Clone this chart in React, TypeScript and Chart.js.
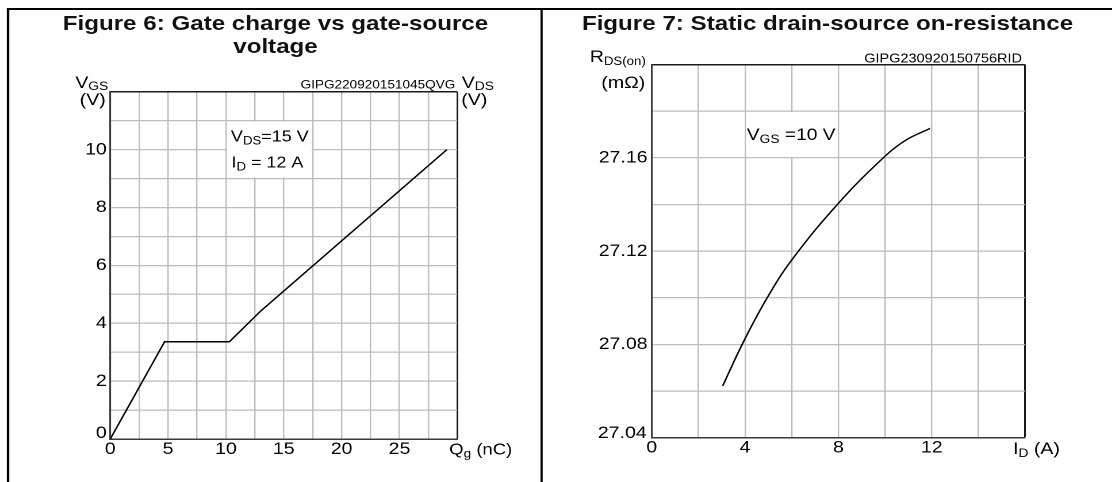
import React, { useEffect, useRef } from "react";
import { Chart, registerables } from "chart.js";

Chart.register(...registerables);

const FONT = '"Liberation Sans", Arial, Helvetica, sans-serif';
// the reference is horizontally stretched; build unstretched and scale X
const S = 1.15;
const ux = (x: number) => x / S;

// ---------- Figure 6: gate charge vs gate-source voltage ----------
const gateCharge = [0, 4.7, 10.3, 13.0, 29.1]; // Qg (nC)
const gateVoltage = [0, 3.36, 3.36, 4.42, 10.0]; // VGS (V)
const qgTickLabels = [0, 5, 10, 15, 20, 25];
const vgsTickLabels = [0, 2, 4, 6, 8, 10];
const fig6Code = "GIPG220920151045QVG";

// ---------- Figure 7: static drain-source on-resistance ----------
const drainCurrent = [3.04, 3.93, 4.93, 6.0, 8.0, 10.0, 10.93, 11.93]; // ID (A)
const rdsOn = [27.0622, 27.0811, 27.0997, 27.1162, 27.1405, 27.1607, 27.1678, 27.1726]; // mOhm
const idTickLabels = [0, 4, 8, 12];
const rdsTickLabels = [27.04, 27.08, 27.12, 27.16];
const fig7Code = "GIPG230920150756RID";

type Run = { t: string; sub?: boolean };

function drawRuns(
  ctx: CanvasRenderingContext2D,
  runs: Run[],
  x: number,
  y: number,
  size: number,
  subSize: number,
  align: "left" | "right",
  subDrop = 3
) {
  const fMain = `${size}px ${FONT}`;
  const fSub = `${subSize}px ${FONT}`;
  let total = 0;
  for (const r of runs) {
    ctx.font = r.sub ? fSub : fMain;
    total += ctx.measureText(r.t).width;
  }
  let cx = align === "right" ? x - total : x;
  ctx.textAlign = "left";
  ctx.textBaseline = "alphabetic";
  ctx.fillStyle = "#000";
  for (const r of runs) {
    ctx.font = r.sub ? fSub : fMain;
    ctx.fillText(r.t, cx, r.sub ? y + subDrop : y);
    cx += ctx.measureText(r.t).width;
  }
}

function range(min: number, max: number, step: number) {
  const out: { value: number }[] = [];
  const n = Math.round((max - min) / step);
  for (let i = 0; i <= n; i++) out.push({ value: Math.round((min + i * step) * 1e6) / 1e6 });
  return out;
}

const near = (a: number, b: number) => Math.abs(a - b) < 1e-6;

function gridFor(max: number) {
  return {
    drawTicks: false,
    color: (c: any) => (c.tick && near(c.tick.value, max) ? "#1a1a1a" : "#bcbcbc"),
    lineWidth: (c: any) => (c.tick && near(c.tick.value, max) ? 1.5 : 1.2),
  };
}

type Geom = {
  box: { left: number; top: number; width: number; height: number };
  plot: { left: number; top: number; right: number; bottom: number };
};

const fig6Geom: Geom = {
  box: { left: 40, top: 60, width: 495, height: 418 },
  plot: { left: 110, top: 91.7, right: 457, bottom: 439 },
};
const fig7Geom: Geom = {
  box: { left: 560, top: 40, width: 545, height: 438 },
  plot: { left: 651.7, top: 64.5, right: 1025, bottom: 437.7 },
};

const TICK = 17;

function baseOptions(g: Geom, w: number) {
  return {
    animation: false as const,
    responsive: false,
    maintainAspectRatio: false,
    devicePixelRatio: 2,
    events: [] as any[],
    layout: {
      padding: {
        left: 0,
        top: g.plot.top - g.box.top,
        right: w - ux(g.plot.right - g.box.left),
        bottom: 0,
      },
    },
    plugins: { legend: { display: false }, tooltip: { enabled: false } },
  };
}

function buildFig6(canvas: HTMLCanvasElement, w: number) {
  const g = fig6Geom;
  const notePlugin = {
    id: "fig6Text",
    afterDraw(chart: any) {
      const { ctx, chartArea: a, scales } = chart;
      const x = scales.x;
      const y = scales.y;
      ctx.save();
      const bx0 = x.getPixelForValue(10);
      const bx1 = x.getPixelForValue(17.5);
      const by0 = y.getPixelForValue(11);
      const by1 = y.getPixelForValue(9);
      ctx.fillStyle = "#fff";
      ctx.fillRect(bx0 + 1, by0 + 1, bx1 - bx0 - 2, by1 - by0 - 2);
      drawRuns(ctx, [{ t: "V" }, { t: "DS", sub: true }, { t: "=15 V" }], bx0 + ux(5), by0 + 21, 15.6, 11.5, "left");
      drawRuns(ctx, [{ t: "I" }, { t: "D", sub: true }, { t: " = 12 A" }], bx0 + ux(5.5), by0 + 46.8, 15.6, 11.5, "left");

      drawRuns(ctx, [{ t: "V" }, { t: "GS", sub: true }], a.left - ux(2), a.top - 3.5, TICK, 12, "right", 2);
      drawRuns(ctx, [{ t: "(V)" }], a.left - ux(4.5), a.top + 13.5, TICK, 12, "right");
      drawRuns(ctx, [{ t: "V" }, { t: "DS", sub: true }], a.right + ux(4.5), a.top - 3.5, TICK, 12, "left", 2);
      drawRuns(ctx, [{ t: "(V)" }], a.right + ux(4), a.top + 13.5, TICK, 12, "left");
      drawRuns(ctx, [{ t: fig6Code }], a.right - ux(2), a.top - 3, 11.8, 11, "right");
      drawRuns(ctx, [{ t: "Q" }, { t: "g", sub: true }, { t: " (nC)" }], a.right - ux(8), a.bottom + 15.3, 16, 12, "left");
      drawRuns(ctx, [{ t: String(vgsTickLabels[0]) }], a.left - ux(3.5), a.bottom - 1, TICK, 12, "right");
      ctx.restore();
    },
  };
  return new Chart(canvas, {
    type: "scatter",
    data: {
      datasets: [
        {
          data: gateCharge.map((q, i) => ({ x: q, y: gateVoltage[i] })),
          showLine: true,
          borderColor: "#000",
          borderWidth: 1.4,
          pointRadius: 0,
          tension: 0,
          fill: false,
        },
      ],
    },
    options: {
      ...baseOptions(g, w),
      scales: {
        x: {
          type: "linear",
          min: 0,
          max: 30,
          afterBuildTicks: (s: any) => {
            s.ticks = range(0, 30, 2.5);
          },
          afterFit: (s: any) => {
            s.height = g.box.top + g.box.height - g.plot.bottom;
          },
          ticks: {
            autoSkip: false,
            maxRotation: 0,
            padding: 0,
            color: "#000",
            font: { family: FONT, size: TICK },
            callback: (v: any) => (qgTickLabels.includes(Number(v)) ? String(v) : ""),
          },
          grid: gridFor(30),
          border: { color: "#3a3a3a", width: 1.5 },
        },
        y: {
          type: "linear",
          min: 0,
          max: 12,
          afterBuildTicks: (s: any) => {
            s.ticks = range(0, 12, 1);
          },
          afterFit: (s: any) => {
            s.width = ux(g.plot.left - g.box.left);
          },
          ticks: {
            autoSkip: false,
            padding: 3,
            color: "#000",
            font: { family: FONT, size: TICK },
            callback: (v: any) => {
              const n = Number(v);
              return n !== vgsTickLabels[0] && vgsTickLabels.includes(n) ? String(n) : "";
            },
          },
          grid: gridFor(12),
          border: { color: "#3a3a3a", width: 1.5 },
        },
      },
    } as any,
    plugins: [notePlugin],
  });
}

function buildFig7(canvas: HTMLCanvasElement, w: number) {
  const g = fig7Geom;
  const notePlugin = {
    id: "fig7Text",
    afterDraw(chart: any) {
      const { ctx, chartArea: a, scales } = chart;
      const x = scales.x;
      const y = scales.y;
      ctx.save();
      const bx0 = x.getPixelForValue(4);
      const bx1 = x.getPixelForValue(8);
      const by0 = y.getPixelForValue(27.18);
      const by1 = y.getPixelForValue(27.16);
      ctx.fillStyle = "#fff";
      ctx.fillRect(bx0 + 1, by0 + 1, bx1 - bx0 - 2, by1 - by0 - 2);
      drawRuns(ctx, [{ t: "V" }, { t: "GS", sub: true }, { t: " =10 V" }], bx0 + ux(1.7), by0 + 29, 16.7, 12, "left");

      drawRuns(ctx, [{ t: "R" }, { t: "DS(on)", sub: true }], a.left - ux(6), a.top - 2.5, TICK, 11.5, "right");
      drawRuns(ctx, [{ t: "(mΩ)" }], a.left - ux(6.5), a.top + 23.5, TICK, 12, "right");
      drawRuns(ctx, [{ t: fig7Code }], a.right - ux(3), a.top - 2, 12.6, 11, "right");
      drawRuns(ctx, [{ t: "I" }, { t: "D", sub: true }, { t: " (A)" }], a.right - ux(12), a.bottom + 16.5, TICK, 12, "left");
      drawRuns(ctx, [{ t: rdsTickLabels[0].toFixed(2) }], a.left - ux(5), a.bottom + 0.5, TICK, 12, "right");
      ctx.restore();
    },
  };
  return new Chart(canvas, {
    type: "scatter",
    data: {
      datasets: [
        {
          data: drainCurrent.map((c, i) => ({ x: c, y: rdsOn[i] })),
          showLine: true,
          borderColor: "#000",
          borderWidth: 1.4,
          pointRadius: 0,
          tension: 0.4,
          fill: false,
        },
      ],
    },
    options: {
      ...baseOptions(g, w),
      scales: {
        x: {
          type: "linear",
          min: 0,
          max: 16,
          afterBuildTicks: (s: any) => {
            s.ticks = range(0, 16, 2);
          },
          afterFit: (s: any) => {
            s.height = g.box.top + g.box.height - g.plot.bottom;
          },
          ticks: {
            autoSkip: false,
            maxRotation: 0,
            padding: 0,
            color: "#000",
            font: { family: FONT, size: TICK },
            callback: (v: any) => (idTickLabels.includes(Number(v)) ? String(v) : ""),
          },
          grid: gridFor(16),
          border: { color: "#3a3a3a", width: 1.5 },
        },
        y: {
          type: "linear",
          min: 27.04,
          max: 27.2,
          afterBuildTicks: (s: any) => {
            s.ticks = range(27.04, 27.2, 0.02);
          },
          afterFit: (s: any) => {
            s.width = ux(g.plot.left - g.box.left);
          },
          ticks: {
            autoSkip: false,
            padding: 3.6,
            color: "#000",
            font: { family: FONT, size: TICK },
            callback: (v: any) => {
              const n = Number(v);
              const i = rdsTickLabels.findIndex((t) => near(t, n));
              return i > 0 ? rdsTickLabels[i].toFixed(2) : "";
            },
          },
          grid: gridFor(27.2),
          border: { color: "#3a3a3a", width: 1.5 },
        },
      },
    } as any,
    plugins: [notePlugin],
  });
}

function ChartCanvas({ geom, build }: { geom: Geom; build: (c: HTMLCanvasElement, w: number) => Chart }) {
  const ref = useRef<HTMLCanvasElement>(null);
  const w = Math.round(ux(geom.box.width));
  const h = geom.box.height;
  useEffect(() => {
    if (!ref.current) return;
    const chart = build(ref.current, w);
    return () => chart.destroy();
  }, []);
  return (
    <canvas
      ref={ref}
      width={w}
      height={h}
      style={{ position: "absolute", left: ux(geom.box.left), top: geom.box.top, width: w, height: h }}
    />
  );
}

const line = (left: number, top: number, width: number, height: number) => (
  <div
    style={{
      position: "absolute",
      left: ux(left),
      top,
      width: ux(width),
      height,
      background: "#000",
    }}
  />
);

export default function App() {
  const titleStyle: React.CSSProperties = {
    position: "absolute",
    top: 12.4,
    fontFamily: FONT,
    fontWeight: "bold",
    fontSize: 21,
    lineHeight: "22.5px",
    color: "#111",
    textAlign: "center",
  };
  return (
    <div
      style={{
        position: "fixed",
        left: 0,
        top: 0,
        width: 1112,
        height: 482,
        overflow: "hidden",
        background: "#fff",
      }}
    >
      <div
        style={{
          position: "absolute",
          left: 0,
          top: 0,
          width: ux(1112),
          height: 482,
          transform: `scaleX(${S})`,
          transformOrigin: "0 0",
        }}
      >
        {line(7, 8, 1105, 2)}
        {line(6.8, 8, 2, 474)}
        {line(541, 8, 2, 474)}
        <div style={{ ...titleStyle, left: ux(9), width: ux(533) }}>
          <div style={{ width: 395, margin: "0 auto" }}>Figure 6: Gate charge vs gate-source voltage</div>
        </div>
        <div style={{ ...titleStyle, left: ux(543), width: ux(569), whiteSpace: "nowrap" }}>
          Figure 7: Static drain-source on-resistance
        </div>
        <ChartCanvas geom={fig6Geom} build={buildFig6} />
        <ChartCanvas geom={fig7Geom} build={buildFig7} />
      </div>
    </div>
  );
}
